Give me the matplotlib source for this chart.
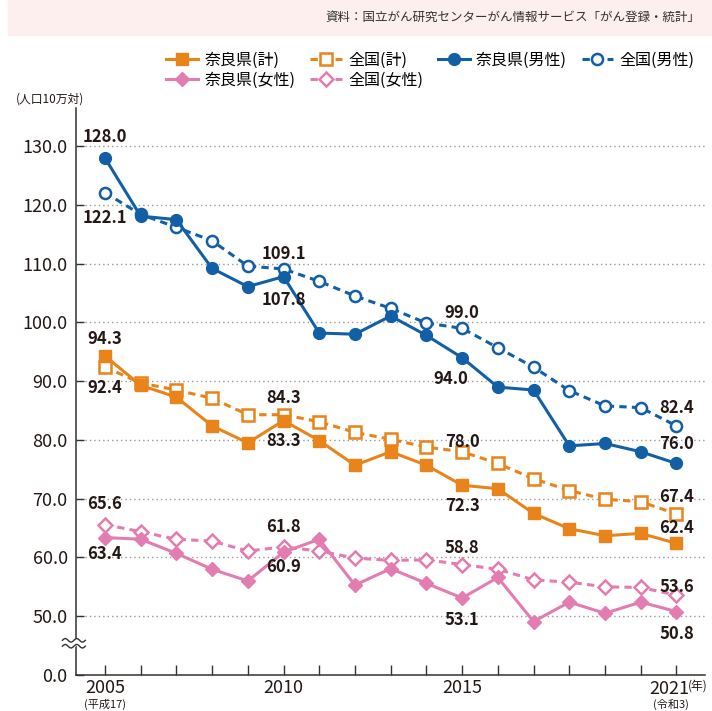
import numpy as np
import matplotlib.pyplot as plt
from matplotlib.lines import Line2D
from matplotlib.patches import Rectangle

plt.rcParams['font.family'] = ['Noto Sans CJK JP', 'DejaVu Sans']

years = list(range(2005, 2022))

nara_male = [128.0, 118.1, 117.5, 109.2, 106.1, 107.8, 98.2, 98.0, 101.1, 97.8,
             94.0, 89.0, 88.5, 79.0, 79.4, 78.0, 76.0]
japan_male = [122.1, 118.4, 116.2, 113.9, 109.6, 109.1, 107.0, 104.5, 102.4, 99.9,
              99.0, 95.7, 92.4, 88.4, 85.8, 85.5, 82.4]
nara_total = [94.3, 89.3, 87.3, 82.4, 79.5, 83.3, 79.9, 75.7, 78.0, 75.7,
              72.3, 71.7, 67.5, 64.9, 63.7, 64.1, 62.4]
japan_total = [92.4, 89.7, 88.5, 87.1, 84.3, 84.3, 83.1, 81.3, 80.1, 78.8,
               78.0, 76.0, 73.4, 71.4, 69.9, 69.5, 67.4]
nara_female = [63.4, 63.1, 60.7, 58.0, 56.0, 60.9, 63.1, 55.3, 58.1, 55.6,
               53.1, 56.6, 49.1, 52.4, 50.5, 52.4, 50.8]
japan_female = [65.6, 64.4, 63.1, 62.8, 61.1, 61.8, 61.1, 59.9, 59.5, 59.6,
                58.8, 58.0, 56.2, 55.8, 55.0, 54.9, 53.6]

ytick_vals = [40, 50, 60, 70, 80, 90, 100, 110, 120, 130]
ytick_labels = ['0.0', '50.0', '60.0', '70.0', '80.0', '90.0', '100.0',
                '110.0', '120.0', '130.0']
xtick_vals = [2005, 2010, 2015, 2021]
xtick_labels = ['2005', '2010', '2015', '2021']

labeled_years = [2005, 2010, 2015, 2021]

ORANGE = '#E8841A'
BLUE = '#135FA6'
PINK = '#E27CB1'
TEXT = '#231815'

fig = plt.figure(figsize=(7.12, 7.11), dpi=100)

# header band with source note
fig.patches.append(Rectangle((8 / 712, 1 - 35 / 711), 1, 35 / 711,
                             transform=fig.transFigure, color='#FCEFED', zorder=0))
fig.text(700 / 712, 1 - 17 / 711, '資料：国立がん研究センターがん情報サービス「がん登録・統計」',
         ha='right', va='center', fontsize=9, color='#333333')

ax = fig.add_axes([76 / 712, 1 - 675 / 711, 629 / 712, 567 / 711])
x0, x1 = 2004.19, 2021.8
ax.set_xlim(x0, x1)
ax.set_ylim(40, 136.5)

for v in ytick_vals[1:]:
    ax.hlines(v, x0, x1, colors='#9a9a9a', linestyles=(0, (1, 2.2)), lw=1, zorder=1)

series = [
    (nara_total, ORANGE, 's', True, '奈良県(計)'),
    (japan_total, ORANGE, 's', False, '全国(計)'),
    (nara_male, BLUE, 'o', True, '奈良県(男性)'),
    (japan_male, BLUE, 'o', False, '全国(男性)'),
    (nara_female, PINK, 'D', True, '奈良県(女性)'),
    (japan_female, PINK, 'D', False, '全国(女性)'),
]

handles = {}
for vals, col, mk, solid, name in series:
    ms = {'s': 9, 'o': 8.5, 'D': 7.5}[mk]
    if solid:
        h, = ax.plot(years, vals, color=col, lw=2.2, marker=mk, ms=ms,
                     mfc=col, mec=col, zorder=4, label=name)
    else:
        h, = ax.plot(years, vals, color=col, lw=2.2, ls=(0, (2.4, 1.7)), marker=mk,
                     ms=ms - 0.5, mfc='white', mec=col, mew=1.8, zorder=3, label=name)
    handles[name] = h

# value labels: (series, offset in points)
label_offsets = [
    (nara_male, [(0, 15), (0, -17), (-8, -15), (0, 14)]),
    (japan_male, [(0, -18), (0, 11), (0, 11), (0, 13)]),
    (nara_total, [(0, 12), (0, -15), (0, -15), (0, 11)]),
    (japan_total, [(0, -15), (0, 12), (0, 7), (0, 12)]),
    (nara_female, [(0, -12), (0, -11), (0, -16), (0, -16)]),
    (japan_female, [(0, 15), (0, 14), (0, 12), (0, 6)]),
]
for vals, offs in label_offsets:
    for yr, (dx, dy) in zip(labeled_years, offs):
        v = vals[years.index(yr)]
        ax.annotate(f'{v:.1f}', (yr, v), xytext=(dx, dy), textcoords='offset points',
                    ha='center', va='center', fontsize=12, fontweight='bold',
                    color=TEXT, zorder=6)

for s in ['top', 'right']:
    ax.spines[s].set_visible(False)
for s in ['left', 'bottom']:
    ax.spines[s].set_color('#333333')
    ax.spines[s].set_linewidth(1.1)

ax.set_yticks(ytick_vals)
ax.set_yticklabels(ytick_labels)
ax.set_xticks(xtick_vals)
ax.set_xticklabels(xtick_labels[:-1] + [''])
ax.set_xticks(years, minor=True)
ax.tick_params(axis='y', direction='in', length=6, width=1, color='#333333',
               labelsize=13, labelcolor=TEXT, pad=6)
ax.tick_params(axis='x', which='both', direction='in', length=7, width=1,
               color='#333333', labelsize=13, labelcolor=TEXT, pad=3)

tr = ax.get_xaxis_transform()
# last year label sits a bit left so the unit fits after it
ax.text(2020.8, -0.0085, xtick_labels[-1], transform=tr, ha='center', va='top',
        fontsize=13, color=TEXT)
ax.text(2021.32, -0.008, '(年)', transform=tr, ha='left', va='top', fontsize=8.5,
        color=TEXT)
ax.text(2005, -0.043, '(平成17)', transform=tr, ha='center', va='top', fontsize=8,
        color=TEXT)
ax.text(2020.85, -0.043, '(令和3)', transform=tr, ha='center', va='top', fontsize=8,
        color=TEXT)
ax.text(-0.095, 1.005, '(人口10万対)', transform=ax.transAxes, ha='left', va='bottom',
        fontsize=8.5, color=TEXT)

# axis break marks
t = np.linspace(0, 1, 60)
wx = 2003.81 + 0.64 * t
ax.fill_between(wx, 44.9 + 0.3 * np.sin(4 * np.pi * t), 45.9 + 0.3 * np.sin(4 * np.pi * t),
                color='white', zorder=5, clip_on=False)
for yb in [45.9, 44.9]:
    ax.plot(wx, yb + 0.3 * np.sin(4 * np.pi * t), color='#333333', lw=1,
            zorder=6, clip_on=False)

blank = Line2D([], [], alpha=0)
order = ['奈良県(計)', '奈良県(女性)', '全国(計)', '全国(女性)',
         '奈良県(男性)', None, '全国(男性)', None]
leg_h = [handles[n] if n else blank for n in order]
leg_l = [n if n else '' for n in order]
fig.legend(leg_h, leg_l, ncol=4, loc='upper left', bbox_to_anchor=(160 / 712, 1 - 45 / 711),
           frameon=False, fontsize=11.5, handlelength=2.0, handletextpad=0.4,
           columnspacing=0.9, labelspacing=0.2, borderaxespad=0)

fig.savefig('out.png', dpi=100)
